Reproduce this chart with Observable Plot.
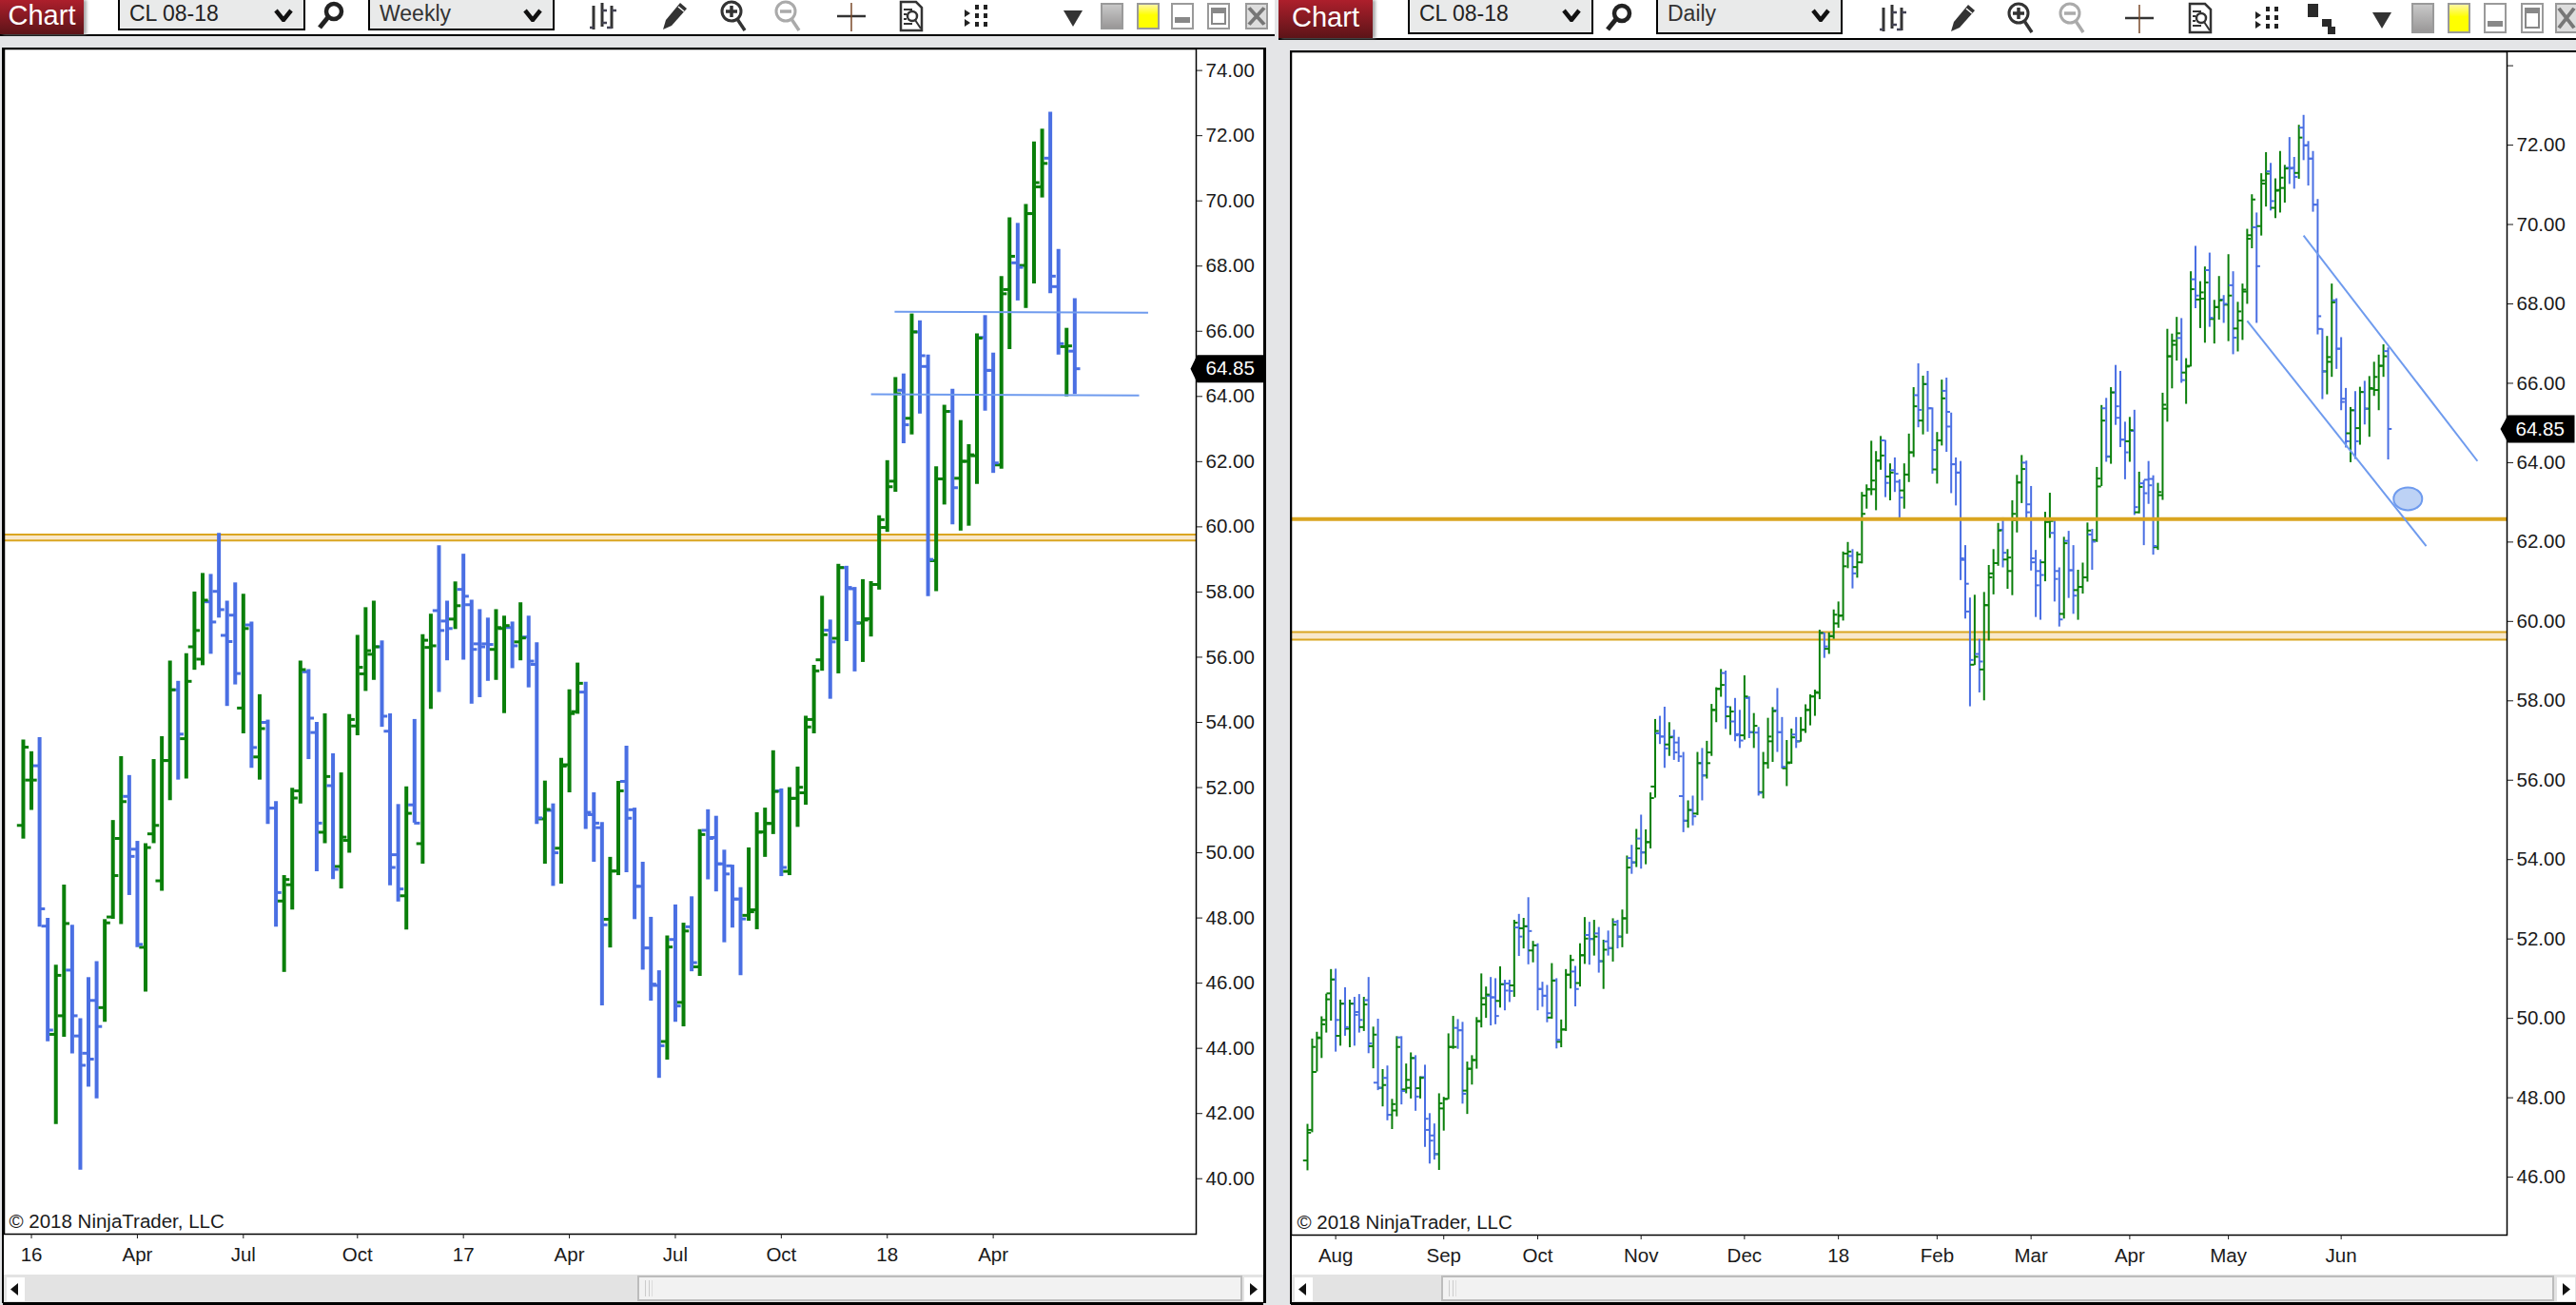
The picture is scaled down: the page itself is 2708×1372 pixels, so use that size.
<!DOCTYPE html>
<html>
<head>
<meta charset="utf-8">
<script src="https://cdn.jsdelivr.net/npm/d3@7"></script>
<script src="https://cdn.jsdelivr.net/npm/@observablehq/plot@0.6"></script>
<style>
html,body{margin:0;padding:0;background:#e4e5e7;width:2708px;height:1372px;overflow:hidden;font-family:"Liberation Sans",Arial,sans-serif}
#page{position:relative;width:2708px;height:1372px;overflow:hidden}
.abs{position:absolute;box-sizing:border-box}
.chartbtn{background:linear-gradient(#ad1f2c,#5c1418);color:#fff;font-size:29px;text-align:center;box-shadow:3px 0 3px #aaa}
.drop{background:#e9eaea;border:2px solid #000;border-top:none;font-size:23px;color:#222;padding-left:10px;line-height:28px}
.panel svg{display:block}
</style>
</head>
<body>
<div id="page"></div>
<script>
// ---------- Weekly CL 08-18 ----------
const weeklyOpen = [
50.84,52.23,52.67,47.75,44.43,45.0,46.4,44.38,43.85,45.47,
45.25,48.03,50.44,51.73,50.11,47.1,50.58,49.14,52.83,55.0,
53.5,56.32,55.94,57.7,58.02,56.67,57.29,54.44,56.99,52.94,
54.0,51.37,48.52,49.02,51.9,55.55,53.69,50.63,52.06,49.58,
50.38,53.89,55.49,56.09,56.32,53.73,49.94,48.68,51.47,50.28,
56.3,57.43,57.11,57.17,58.08,57.61,56.41,56.41,56.24,56.88,
56.91,56.47,56.62,55.78,51.04,51.3,50.14,52.7,54.33,54.93,
51.17,50.77,47.96,49.44,52.19,51.32,48.97,47.08,45.93,44.21,
47.34,45.41,47.73,46.5,50.69,50.47,49.66,49.6,48.58,48.08,
48.25,50.64,50.9,51.9,49.43,51.67,51.84,54.09,55.92,56.83,
56.58,58.75,58.1,57.05,57.18,58.23,59.98,61.4,64.19,63.33,
65.98,64.92,58.96,61.47,63.54,61.49,62.01,62.18,65.81,64.8,
61.9,67.28,68.1,68.02,69.61,70.43,71.31,67.37,65.53,65.39];
const weeklyHigh = [
53.46,53.1,53.53,47.99,46.55,49.01,47.78,44.91,46.17,46.66,
47.95,50.99,52.95,52.37,50.35,50.28,52.86,53.56,55.88,55.26,
56.11,58.0,58.57,58.54,59.8,57.72,58.28,57.93,57.08,54.85,
54.07,51.57,49.3,51.98,55.88,55.62,54.0,54.26,53.04,52.45,
54.24,56.67,57.52,57.72,56.5,54.26,51.48,52.02,54.09,56.69,
57.32,59.42,57.72,58.31,59.16,57.75,57.46,57.2,57.46,57.26,
57.08,57.67,57.26,56.44,52.2,51.5,52.9,55.0,55.82,55.23,
51.84,50.93,49.86,52.19,53.27,51.37,49.71,48.02,46.38,47.45,
48.4,47.84,48.65,50.71,51.32,51.12,50.08,49.62,48.93,50.15,
51.23,51.37,53.13,51.96,52.0,52.63,54.19,55.75,57.87,57.14,
58.85,58.79,58.14,58.38,58.32,60.34,62.03,64.58,64.69,66.53,
66.32,65.27,61.84,63.73,64.22,63.26,62.52,65.92,66.48,65.33,
67.68,69.48,69.31,69.89,71.81,72.2,72.72,68.51,66.09,67.0];
const weeklyLow = [
50.42,51.3,47.72,44.2,41.66,44.34,43.83,40.26,42.81,42.45,
44.8,47.96,47.8,48.69,47.09,45.73,50.28,48.82,51.6,52.23,
52.26,55.6,55.74,56.09,57.2,54.49,55.15,53.65,52.59,52.23,
50.87,47.72,46.33,48.24,51.5,52.86,49.42,50.28,49.18,48.89,
49.99,53.59,54.95,55.29,53.85,48.99,48.49,47.63,50.91,49.65,
54.4,54.92,55.89,56.85,55.91,54.56,54.76,55.26,55.29,54.27,
55.65,55.89,55.06,50.87,49.65,48.97,49.04,51.84,54.25,50.72,
49.71,45.3,47.08,49.3,49.39,47.95,46.4,45.45,43.08,43.64,
44.8,44.66,46.35,46.21,49.17,48.8,47.24,47.69,46.23,47.9,
47.64,49.86,50.56,49.27,49.3,50.78,51.46,53.65,55.57,54.71,
55.49,56.48,55.55,55.84,56.62,58.06,59.83,61.06,62.55,62.82,
63.46,57.86,58.01,60.67,60.06,59.87,60.02,61.3,63.55,61.64,
61.77,65.44,66.93,66.7,67.45,70.09,67.15,65.27,63.99,64.06];
const weeklyClose = [
53.24,52.23,48.28,44.56,46.24,47.83,45.0,43.48,43.67,44.67,
47.85,49.3,51.57,49.89,47.19,50.16,50.84,52.83,55.0,53.64,
55.26,56.82,57.75,57.08,57.46,56.48,55.5,56.88,53.23,53.81,
51.37,48.78,49.18,51.68,55.62,54.13,50.91,52.34,49.49,50.48,
54.09,55.69,56.2,56.32,54.19,49.55,48.89,51.21,50.91,56.52,
56.35,56.82,56.88,57.58,57.87,56.24,56.32,56.39,56.91,56.97,
56.35,56.59,55.88,51.07,51.33,50.0,52.66,54.27,55.2,51.24,
50.91,47.79,49.44,51.9,51.06,48.97,47.08,45.97,44.08,47.11,
45.3,47.6,46.63,50.56,50.44,49.66,49.35,48.58,47.97,48.19,
50.63,50.9,51.88,49.55,51.67,52.01,53.86,55.58,56.69,56.47,
58.75,58.14,57.05,57.14,58.23,60.22,61.23,64.08,63.13,65.98,
65.25,59.0,61.47,63.54,61.2,62.01,62.21,65.79,64.8,61.96,
67.15,68.3,67.96,69.61,70.56,71.15,67.69,65.62,65.55,64.85];
const weeklyTickBars = [1,14,27,41,54,67,80,93,106,119];
const weeklyTickLabels = ["16","Apr","Jul","Oct","17","Apr","Jul","Oct","18","Apr"];
const weeklyPriceTicks = [40,42,44,46,48,50,52,54,56,58,60,62,64,66,68,70,72,74];
const weeklyZoneTop = 59.76, weeklyZoneBottom = 59.58;
const weeklyLevelBars = [[106.9,138,66.6,66.57],[104,136.9,64.07,64.03]];

// ---------- Daily CL 08-18 ----------
const dailyOpen = [
46.42,47.19,48.65,49.5,49.96,50.63,50.98,49.56,50.37,49.74,
50.37,50.16,49.78,50.46,49.3,48.38,48.25,48.5,47.57,47.68,
49.52,48.21,48.25,49.0,48.24,48.52,47.19,47.05,46.58,47.73,
47.97,49.28,49.76,49.7,48.18,48.73,48.95,49.93,50.35,50.57,
50.53,50.44,50.86,50.88,50.83,52.29,52.27,52.32,51.71,51.84,
50.74,50.57,50.02,50.96,49.41,49.72,51.1,51.18,50.89,51.59,
52.1,52.0,52.14,51.44,51.94,51.77,52.43,52.06,52.52,54.04,
53.93,54.53,54.18,54.44,55.84,57.18,57.1,56.9,57.1,56.95,
55.6,54.98,55.25,55.16,56.43,56.12,56.7,57.77,58.3,58.7,
57.61,57.48,57.16,57.13,58.07,57.21,57.2,55.7,56.43,56.98,
57.76,57.21,56.3,56.45,57.15,56.98,57.27,57.77,58.11,58.2,
59.71,59.31,59.63,59.95,60.15,61.71,61.65,61.37,61.49,63.17,
63.33,63.33,64.05,64.56,63.65,63.81,63.52,63.3,63.7,64.26,
65.7,65.06,65.98,65.37,63.83,64.56,65.81,64.91,63.96,63.75,
61.55,60.25,58.91,59.18,58.79,60.41,61.21,61.47,62.31,61.56,
61.27,62.55,63.5,64.0,62.95,61.49,61.27,61.49,62.51,62.23,
61.27,60.19,62.03,61.29,60.79,60.87,61.11,62.19,62.05,63.4,
65.37,64.15,65.77,65.13,64.58,64.54,64.8,62.75,63.48,63.57,
63.59,61.87,63.18,65.36,66.68,66.97,67.14,66.27,66.44,68.62,
68.11,68.13,68.85,67.62,67.92,68.11,67.98,68.47,67.38,67.58,
68.31,69.73,69.93,69.96,71.03,71.34,70.42,70.87,70.92,71.43,
71.43,71.3,72.44,72.0,71.66,70.5,67.37,66.3,66.54,68.09,
66.87,65.61,64.74,65.32,64.87,65.78,65.36,65.86,65.83,66.44,
66.81];
const dailyHigh = [
47.33,49.48,49.65,50.04,50.61,51.23,51.24,50.46,50.77,50.46,
50.53,50.6,50.53,51.03,49.78,49.98,48.71,48.8,47.96,49.54,
49.54,48.85,49.13,49.06,48.53,48.82,47.6,47.34,48.1,48.01,
49.61,50.05,49.97,49.9,48.9,49.06,50.02,51.12,50.79,51.03,
51.0,51.3,50.96,50.96,52.47,52.62,52.52,53.04,51.94,51.88,
50.91,50.83,51.38,51.0,49.96,51.23,51.59,51.31,51.88,52.54,
52.42,52.47,52.29,51.97,52.2,52.51,52.47,52.73,54.09,54.36,
54.76,55.12,54.75,55.68,57.53,57.61,57.84,57.45,57.26,57.08,
56.7,55.48,55.6,56.7,56.8,56.98,57.91,58.33,58.79,58.75,
57.85,58.06,57.76,58.63,58.1,57.68,57.33,56.7,57.56,57.83,
58.31,57.58,57.0,57.29,57.58,57.58,57.9,58.15,58.27,59.78,
59.71,59.71,60.29,60.49,61.75,61.99,61.81,61.75,63.25,63.44,
64.54,64.28,64.66,64.56,63.97,64.12,63.57,63.97,64.72,65.89,
66.49,66.18,66.3,65.38,64.76,66.08,66.13,65.25,64.12,64.03,
61.91,60.59,60.66,59.55,60.73,61.41,61.81,62.47,62.61,61.81,
63.04,63.68,64.18,64.04,63.4,61.79,61.55,62.75,63.23,62.53,
61.35,62.12,62.27,61.91,61.29,61.47,62.48,62.32,63.88,65.44,
65.62,65.89,66.45,66.3,65.02,65.14,65.32,63.76,63.55,64.03,
63.67,63.48,65.75,67.36,67.24,67.66,67.63,66.62,68.81,69.45,
68.56,68.93,69.28,68.09,68.69,68.21,69.24,68.81,68.04,68.5,
69.88,70.75,70.29,71.28,71.81,71.54,71.15,71.84,71.49,72.19,
71.69,72.5,72.75,72.09,71.84,70.63,67.37,67.18,68.5,68.13,
67.15,65.87,65.39,65.79,65.9,66.05,66.17,66.53,66.71,66.97,
66.89];
const dailyLow = [
46.16,47.12,48.65,48.99,49.63,49.93,49.15,49.3,49.55,49.26,
49.3,49.63,49.67,49.11,48.73,48.18,47.77,47.42,47.2,47.52,
47.82,48.1,47.97,47.66,47.97,46.75,46.33,46.43,46.17,47.16,
47.95,49.22,49.22,47.84,47.58,48.32,48.72,49.76,50.0,49.81,
49.84,50.26,50.19,50.4,50.53,51.56,51.75,51.35,51.4,50.19,
50.28,49.89,49.98,49.23,49.26,49.67,50.74,50.29,50.79,51.36,
51.34,51.57,51.14,50.73,51.57,51.42,51.75,51.78,52.12,53.63,
53.8,53.76,53.87,54.27,55.55,56.9,56.3,56.6,56.5,56.45,
54.68,54.79,54.85,55.11,55.48,56.03,56.6,57.45,58.09,57.28,
57.13,56.97,56.8,57.01,57.05,56.8,55.6,55.53,56.28,56.45,
56.7,56.28,55.84,56.4,56.8,56.96,57.18,57.37,57.61,58.03,
59.07,59.17,59.55,59.83,60.01,61.33,60.82,61.09,61.45,62.83,
63.17,62.79,63.81,63.12,63.04,63.25,62.56,62.83,63.5,64.13,
64.88,64.7,64.77,63.71,63.46,64.42,64.26,63.22,62.91,61.03,
60.06,57.85,58.89,58.2,58.0,59.51,60.67,61.39,61.35,60.81,
60.65,62.23,62.97,62.55,61.27,60.1,60.03,61.0,62.09,60.49,
59.86,60.06,60.58,60.18,60.03,60.69,60.99,61.29,61.99,63.4,
64.01,63.96,64.94,64.38,63.57,64.01,62.67,62.71,61.91,62.95,
61.67,61.79,63.05,65.02,65.86,66.56,66.0,65.47,66.41,67.88,
67.38,67.01,67.41,66.99,67.59,67.51,67.05,66.72,66.79,67.08,
67.99,69.39,67.51,69.71,70.44,70.34,70.15,70.29,70.54,71.01,
70.89,71.14,71.61,70.97,70.31,67.22,65.59,65.71,66.15,66.35,
65.31,64.37,64.0,64.08,64.44,64.95,64.64,65.67,65.31,66.15,
64.07];
const dailyClose = [
47.12,49.28,49.52,49.85,50.48,50.98,49.96,50.37,49.78,50.37,
50.09,49.96,50.35,49.37,49.59,48.25,48.32,47.57,47.84,49.28,
48.17,48.45,49.0,48.03,48.5,47.47,46.92,46.58,47.86,47.97,
49.28,49.28,49.7,48.1,48.73,48.95,49.93,50.51,50.6,50.53,
50.06,50.86,50.7,50.69,52.41,52.06,52.32,52.2,51.84,50.74,
50.57,50.13,50.95,49.46,49.72,51.1,51.47,50.74,51.59,52.01,
52.0,52.06,51.44,51.73,51.77,52.36,52.06,52.52,53.8,53.93,
54.28,54.18,54.44,55.55,57.24,57.1,56.8,57.08,56.7,56.6,
54.98,55.25,55.09,56.43,56.12,56.43,57.77,58.3,58.4,57.85,
57.73,57.13,57.0,58.11,57.21,57.37,55.68,56.43,57.1,57.74,
57.21,56.34,56.43,57.08,56.98,57.27,57.77,58.11,58.22,59.71,
59.37,59.63,60.17,60.14,61.39,61.76,61.21,61.69,62.71,63.33,
63.55,64.05,64.18,63.49,63.75,63.72,63.12,63.7,64.26,65.42,
65.33,65.98,65.37,64.32,64.56,65.62,65.28,63.96,63.75,61.59,
60.95,59.03,59.11,58.99,60.41,61.11,61.47,62.29,61.73,61.61,
62.71,63.5,63.84,62.75,61.59,60.91,61.17,62.51,62.53,61.07,
60.05,61.97,61.29,60.65,60.87,61.11,62.29,62.01,63.6,65.06,
64.16,65.77,65.42,64.58,64.26,64.82,62.88,63.39,63.23,63.43,
61.9,63.26,65.46,66.68,67.07,67.26,66.08,66.42,68.37,68.21,
68.29,68.54,67.65,67.92,68.09,68.0,68.21,67.15,67.81,68.36,
69.64,70.63,68.95,71.11,71.28,70.59,70.85,71.18,71.41,71.41,
71.2,72.19,71.99,71.66,70.5,67.69,66.3,66.66,68.04,66.87,
65.53,64.54,65.32,64.54,65.78,65.36,65.88,66.16,66.44,66.68,
64.85];
const dailyTickBars = [6,29,49,71,93,113,134,154,175,196,220];
const dailyTickLabels = ["Aug","Sep","Oct","Nov","Dec","18","Feb","Mar","Apr","May","Jun"];
const dailyPriceTicks = [46,48,50,52,54,56,58,60,62,64,66,68,70,72,74];
const dailyZoneTop = 59.73, dailyZoneBottom = 59.54, dailyLevel = 62.58;
const dailyChannelBars = [[212,249,69.72,64.04],[200,238.1,67.57,61.9]];
const dailyMarker = {bar:234.2, price:63.09};
const lastPrice = 64.85;
const copyright = "\u00a9 2018 NinjaTrader, LLC";

const UP = "#0a7f0a", DOWN = "#4a6fe3", GOLD = "#daa520", ZONE = "#f8e8cb", DRAWN = "#6f9bee";
const FONT = "Liberation Sans, Arial, sans-serif";

function tagSymbol(left){
  return {draw(c){ c.moveTo(left,0); c.lineTo(1,-14.5); c.lineTo(71,-14.5); c.lineTo(71,14.5); c.lineTo(1,14.5); c.closePath(); }};
}
const ellipseSymbol = {draw(c,size){
  const r=Math.sqrt(size/Math.PI), a=r*1.25, b=r, k=0.5523;
  c.moveTo(a,0);
  c.bezierCurveTo(a,k*b,k*a,b,0,b);
  c.bezierCurveTo(-k*a,b,-a,k*b,-a,0);
  c.bezierCurveTo(-a,-k*b,-k*a,-b,0,-b);
  c.bezierCurveTo(k*a,-b,a,-k*b,a,0);
  c.closePath();
}};

function ohlcChart(o){
  const bars = o.open.map((v,i)=>({i,o:v,h:o.high[i],l:o.low[i],c:o.close[i]}));
  const col = d => d.c < d.o ? DOWN : UP;
  const labels = new Map(o.tickBars.map((b,k)=>[b,o.tickLabels[k]]));
  const marks = [
    ...o.under,
    Plot.ruleX(bars,{x:"i",y1:"l",y2:"h",stroke:col,strokeWidth:o.stem}),
    Plot.ruleY(bars,{x1:d=>d.i-o.tick,x2:"i",y:"o",stroke:col,strokeWidth:o.tickW}),
    Plot.ruleY(bars,{x1:"i",x2:d=>d.i+o.tick,y:"c",stroke:col,strokeWidth:o.tickW}),
    ...o.over,
    Plot.frame({stroke:"#000",strokeWidth:1.5}),
    Plot.axisY({anchor:"right",ticks:o.priceTicks,tickSize:6,tickPadding:4,label:null,
      tickFormat:d=> o.hideTick===d ? "" : d.toFixed(2),fontSize:20.5,fill:"#1a1a1a"}),
    Plot.axisX({anchor:"bottom",ticks:o.tickBars,tickSize:5,tickPadding:9,label:null,
      tickFormat:d=>labels.get(d),fontSize:20.5,fill:"#1a1a1a"}),
    Plot.dot([lastPrice],{y:d=>d,frameAnchor:"right",symbol:tagSymbol(o.tagLeft),r:10,fill:"#000",stroke:"none",clip:false}),
    Plot.text([lastPrice],{y:d=>d,frameAnchor:"right",textAnchor:"start",dx:o.tagDx,text:d=>d.toFixed(2),fill:"#fff",fontSize:20.5}),
    Plot.text([copyright],{frameAnchor:"bottom-left",textAnchor:"start",dx:o.copyDx,dy:-7,text:d=>d,fill:"#1a1a1a",fontSize:20.5})
  ];
  return Plot.plot({
    width:o.width,height:o.height,marginLeft:0,marginTop:0,marginRight:o.marginRight,marginBottom:o.marginBottom,
    x:{domain:o.xDomain,axis:null},y:{domain:o.yDomain,axis:null},color:{type:"identity"},
    style:{background:"white",fontFamily:FONT,fontSize:"20.5px",overflow:"visible",color:"#1a1a1a"},
    marks
  });
}

const weeklyChart = ohlcChart({
  open:weeklyOpen,high:weeklyHigh,low:weeklyLow,close:weeklyClose,
  tickBars:weeklyTickBars,tickLabels:weeklyTickLabels,priceTicks:weeklyPriceTicks,
  width:1324,height:1289,marginRight:71,marginBottom:43,
  xDomain:[-2.33,143.9],yDomain:[38.3,74.66],
  stem:4,tickW:3,tick:0.72,tagLeft:-6,tagDx:10,copyDx:5,
  under:[
    Plot.rect([0],{y1:()=>weeklyZoneBottom,y2:()=>weeklyZoneTop,fill:ZONE}),
    Plot.ruleY([weeklyZoneTop,weeklyZoneBottom],{stroke:GOLD,strokeWidth:2})
  ],
  over:[
    Plot.link(weeklyLevelBars,{x1:d=>d[0],x2:d=>d[1],y1:d=>d[2],y2:d=>d[3],stroke:DRAWN,strokeWidth:2})
  ]
});

const dailyChart = ohlcChart({
  open:dailyOpen,high:dailyHigh,low:dailyLow,close:dailyClose,
  tickBars:dailyTickBars,tickLabels:dailyTickLabels,priceTicks:dailyPriceTicks,hideTick:74,
  width:1351,height:1289,marginRight:73,marginBottom:45,
  xDomain:[-3.44,255.3],yDomain:[44.54,74.35],
  stem:2,tickW:2,tick:0.85,tagLeft:-7,tagDx:9,copyDx:6,
  under:[
    Plot.rect([0],{y1:()=>dailyZoneBottom,y2:()=>dailyZoneTop,fill:ZONE}),
    Plot.ruleY([dailyZoneTop,dailyZoneBottom],{stroke:GOLD,strokeWidth:2})
  ],
  over:[
    Plot.ruleY([dailyLevel],{stroke:GOLD,strokeWidth:4}),
    Plot.link(dailyChannelBars,{x1:d=>d[0],x2:d=>d[1],y1:d=>d[2],y2:d=>d[3],stroke:DRAWN,strokeWidth:2}),
    Plot.dot([dailyMarker],{x:"bar",y:"price",symbol:ellipseSymbol,r:12,fill:"#bdd2f5",stroke:DRAWN,strokeWidth:2})
  ]
});

// ---------- window chrome ----------
const page = document.getElementById("page");
function box(x,y,w,h,css,html,cls){
  const e=document.createElement("div");
  e.className="abs "+(cls||"");
  e.style.cssText+=`left:${x}px;top:${y}px;width:${w}px;height:${h}px;`+(css||"");
  if(html!=null) e.innerHTML=html;
  page.appendChild(e); return e;
}
const chevron = `<svg width="20" height="14" viewBox="0 0 20 14" style="position:absolute;right:11px;top:9px"><path d="M2 2 L10 12 L18 2" fill="none" stroke="#111" stroke-width="4.5"/></svg>`;
const ICONS = {
 glass:`<circle cx="20" cy="12" r="8" fill="none" stroke="#222" stroke-width="4.5"/><line x1="14" y1="18" x2="5" y2="29" stroke="#222" stroke-width="5"/>`,
 bars:`<path d="M7 6V31M16 3V28M26 6V30" stroke="#333" stroke-width="3"/><path d="M3 29H7M16 11H21M16 24H21M21 24M26 11H31M21 29H26" stroke="#445" stroke-width="2.5"/>`,
 pencil:`<path d="M4 31 L7 21 L22 3 L29 9 L13 27 Z" fill="#333"/><path d="M20 7 L26 12" stroke="#fff" stroke-width="1.5"/>`,
 zoomIn:`<circle cx="14" cy="12" r="10" fill="none" stroke="#333" stroke-width="3"/><path d="M8 12H20M14 6V18" stroke="#333" stroke-width="3.5"/><line x1="20" y1="20" x2="28" y2="32" stroke="#333" stroke-width="3.5"/>`,
 zoomOut:`<circle cx="14" cy="12" r="10" fill="none" stroke="#aaa" stroke-width="3"/><path d="M8 12H20" stroke="#aaa" stroke-width="3.5"/><line x1="20" y1="20" x2="28" y2="32" stroke="#aaa" stroke-width="3.5"/>`,
 cross:`<path d="M2 17H32" stroke="#333" stroke-width="2.5"/><path d="M17 3V33" stroke="#7a4a2a" stroke-width="1.5"/>`,
 doc:`<path d="M6 2H22L28 8V32H6Z" fill="#fff" stroke="#333" stroke-width="2.5"/><circle cx="18" cy="17" r="5" fill="none" stroke="#333" stroke-width="2.5"/><path d="M21 21L27 30M9 10H18M9 15H12M9 20H12M9 25H18" stroke="#333" stroke-width="2"/>`,
 dots:`<path d="M5 10L11 14L5 18ZM5 20L11 24L5 28Z" fill="#222"/><path d="M16 5H20V10H16ZM25 5H29V10H25ZM16 14H20V19H16ZM25 14H29V19H25ZM16 23H20V28H16ZM25 23H29V28H25Z" fill="#222"/>`,
 stairs:`<path d="M2 2H13V16H2ZM17 18H27V26H17ZM23 26H31V34H23Z" fill="#2a2a2a"/>`,
 tri:`<path d="M4 11H24L14 28Z" fill="#333"/>`
};
function icon(x,cy,name){
  box(x-17,cy-17,34,34,"",`<svg width="34" height="34" viewBox="0 0 34 34">${ICONS[name]}</svg>`);
}
function winBtn(x,y,h,bg,inner,w){
  box(x,y,w||24,h,`background:${bg};border:2px solid #9a9a9a;`,inner||"");
}
function toolbar(o){
  box(o.left,0,o.width,o.h,"background:#fff;");
  box(o.left,o.h,o.width,2,"background:#000;");
  box(o.btnX,0,o.btnW,o.h,`line-height:${o.h-4}px;`,"Chart","chartbtn");
  box(o.d1[0],0,o.d1[1],o.h-4,"", "CL 08-18"+chevron,"drop");
  box(o.d2[0],0,o.d2[1],o.h-4,"color:#333;", o.interval+chevron,"drop");
  o.icons.forEach(([x,n])=>icon(x,o.cy,n));
  const [g,yl,mn,mx,cl]=o.win;
  winBtn(g,3,o.h-8,"linear-gradient(#c8c8c8,#9a9898)");
  winBtn(yl,3,o.h-8,"linear-gradient(#fff7a0,#ffff00 45%,#ffff00)");
  winBtn(mn,3,o.h-8,"#fff",`<div style="position:absolute;left:2px;right:2px;bottom:5px;height:6px;background:#888"></div>`);
  winBtn(mx,3,o.h-8,"#fff",`<div style="position:absolute;left:2px;right:2px;top:3px;bottom:3px;border:2px solid #888;border-top-width:6px"></div>`);
  box(cl,3,24,o.h-8,"background:#ddd;border:2px solid #9a9a9a;overflow:hidden;",`<svg width="20" height="${o.h-12}" viewBox="0 0 20 30" preserveAspectRatio="none"><path d="M2 4L18 26M18 4L2 26" stroke="#777" stroke-width="4"/></svg>`);
}
function scrollbar(o){
  box(o.x,1340,o.w,29,"background:#e3e3e3;");
  box(o.x+3,1343,19,25,"background:#fff;",`<svg width="19" height="25"><path d="M12 6V19L4 12.5Z" fill="#111"/></svg>`);
  box(o.thumb[0],1341,o.thumb[1],27,"background:#f2f2f2;border:2px solid #bcbcbc;",`<div style="position:absolute;left:6px;top:3px;bottom:3px;width:3px;border-left:1px solid #ccc;border-right:1px solid #ccc"></div><div style="position:absolute;left:13px;top:3px;bottom:3px;width:1px;background:#ddd"></div>`);
  box(o.x+o.w-20,1343,19,25,"background:#fff;",`<svg width="19" height="25"><path d="M6 6V19L14 12.5Z" fill="#111"/></svg>`);
  box(o.x-1,1369,o.w+1,3,"background:#000;");
}

toolbar({left:0,width:1340,h:36,btnX:0,btnW:88,cy:17,d1:[124,197],d2:[387,196],interval:"Weekly",
  icons:[[334+14,"glass"],[634,"bars"],[710,"pencil"],[772,"zoomIn"],[829,"zoomOut"],[895,"cross"],[958,"doc"],[1026,"dots"],[1131,"tri"]],
  win:[1157,1195,1231,1269,1309]});
toolbar({left:1344,width:1364,h:40,btnX:1344,btnW:99,cy:19,d1:[1480,195],d2:[1741,196],interval:"Daily",
  icons:[[1702,"glass"],[1990,"bars"],[2064,"pencil"],[2125,"zoomIn"],[2179,"zoomOut"],[2249,"cross"],[2313,"doc"],[2383,"dots"],[2441,"stairs"],[2507,"tri"]],
  win:[2535,2573,2611,2650,2686]});

const pl = box(4,51,1324,1289,"","", "panel"); pl.appendChild(weeklyChart);
const pr = box(1357,54,1351,1289,"","", "panel"); pr.appendChild(dailyChart);

box(1328,50,2.5,1320,"background:#000;");
box(2,50,2,1320,"background:#000;");
box(1355.5,53,2,1318,"background:#000;");
box(2,50,1328,2,"background:#000;");
box(1356,53,1352,2,"background:#000;");

scrollbar({x:4,w:1324,thumb:[670,636]});
scrollbar({x:1358,w:1350,thumb:[1515,1170]});
</script>
</body>
</html>
